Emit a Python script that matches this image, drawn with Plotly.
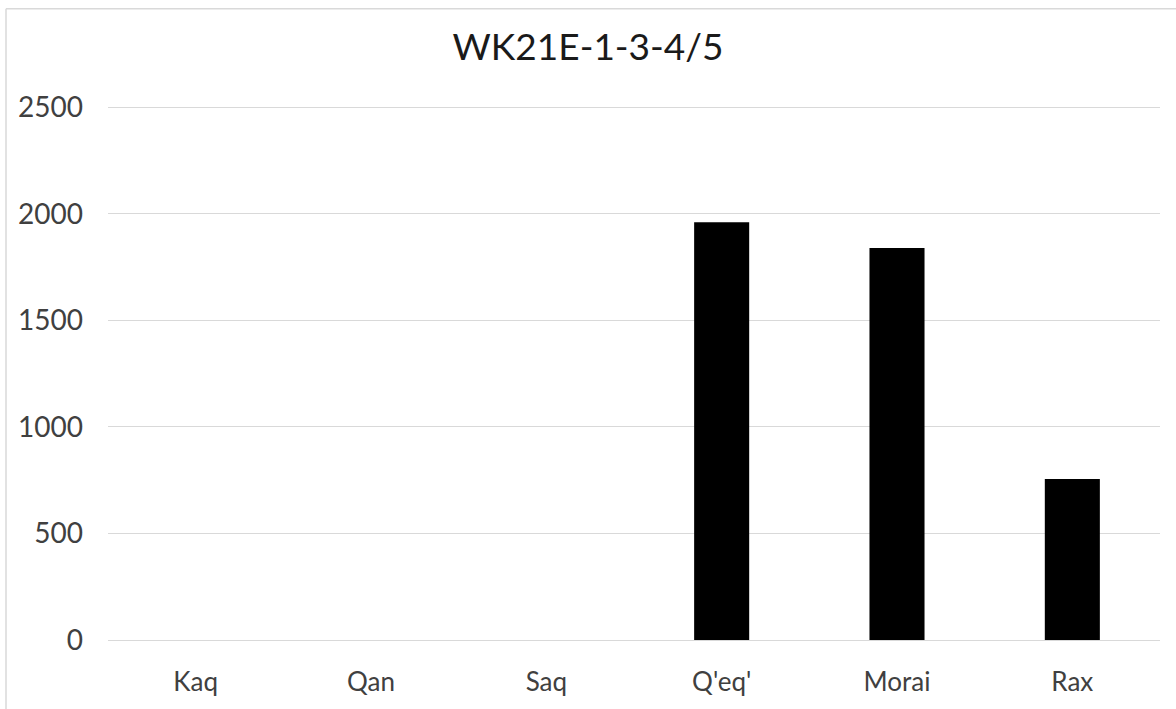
import plotly.graph_objects as go

# ── Data ──────────────────────────────────────────────────────────────────────
categories = ["Kaq", "Qan", "Saq", "Q'eq'", "Morai", "Rax"]
values = [0, 0, 0, 1960, 1840, 755]
y_ticks = [0, 500, 1000, 1500, 2000, 2500]

FONT = "Lato, 'Open Sans', sans-serif"
GRID = "#d9d9d9"
TEXT = "#404040"

fig = go.Figure(
    go.Bar(x=categories, y=values, marker=dict(color="black", line_width=0))
)

# plot area: x 108..1160, y ~103..644 in a 1176x709 page
L, R, T, B = 108, 16, 103, 65
W, H = 1176 - L - R, 709 - T - B

border_y = (709 - B - 8) / H
border_x = (6 - L) / W

fig.update_layout(
    width=1176, height=709,
    title=dict(
        text="WK21E-1-3-4/5",
        font=dict(size=37, color="#1a1a1a", family=FONT),
        x=0.5, xanchor="center", y=1 - 47 / 709, yanchor="middle",
    ),
    plot_bgcolor="white",
    paper_bgcolor="white",
    margin=dict(l=L, r=R, t=T, b=B),
    bargap=0.686,
    showlegend=False,
    shapes=[
        # outer chart border (top and left edges visible)
        dict(type="line", xref="paper", yref="paper",
             x0=border_x, x1=1.2, y0=border_y, y1=border_y,
             line=dict(color=GRID, width=1.5)),
        dict(type="line", xref="paper", yref="paper",
             x0=border_x, x1=border_x, y0=-0.3, y1=border_y,
             line=dict(color=GRID, width=1.5)),
    ],
)
fig.update_xaxes(
    showgrid=False, showline=False, zeroline=False,
    tickfont=dict(size=26, color=TEXT, family=FONT),
    ticks="", ticklabelstandoff=24,
)
fig.update_yaxes(
    range=[0, 2520], tickvals=y_ticks,
    showgrid=True, gridcolor=GRID, gridwidth=1,
    zeroline=True, zerolinecolor=GRID, zerolinewidth=1,
    tickfont=dict(size=28, color=TEXT, family=FONT),
    ticks="", ticklabelstandoff=24,
)

fig.write_html(
    "out.html",
    config={"displayModeBar": False},
    post_script="document.body.style.margin='0';",
)
